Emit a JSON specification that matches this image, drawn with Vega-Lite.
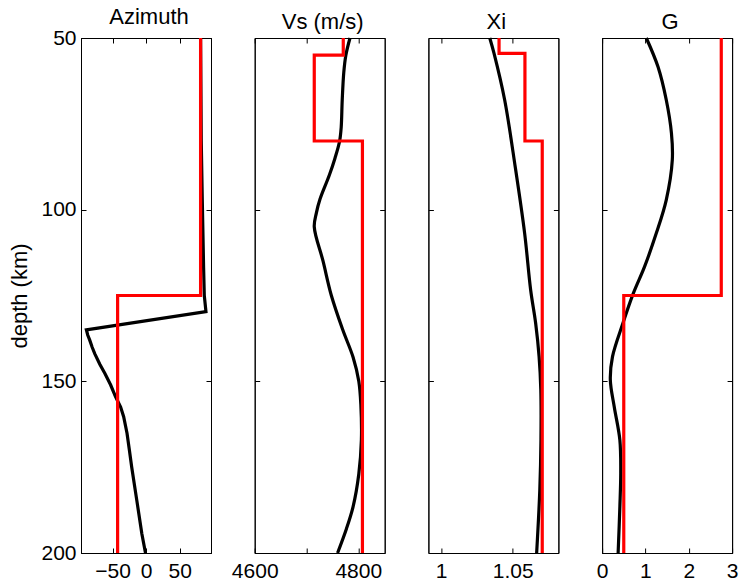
{
  "$schema": "https://vega.github.io/schema/vega-lite/v6.json",
  "padding": {"left": 8, "top": 5, "right": 5, "bottom": 5},
  "background": "white",
  "datasets": {
    "curves": [
      {"panel": "Azimuth", "series": "b", "order": 1, "depth": 50, "value": 81},
      {"panel": "Azimuth", "series": "b", "order": 2, "depth": 80, "value": 82},
      {"panel": "Azimuth", "series": "b", "order": 3, "depth": 97, "value": 83.5},
      {"panel": "Azimuth", "series": "b", "order": 4, "depth": 117, "value": 85.5},
      {"panel": "Azimuth", "series": "b", "order": 5, "depth": 125, "value": 86.5},
      {"panel": "Azimuth", "series": "b", "order": 6, "depth": 129.7, "value": 89},
      {"panel": "Azimuth", "series": "b", "order": 7, "depth": 135, "value": -89},
      {"panel": "Azimuth", "series": "b", "order": 8, "depth": 136.5, "value": -87},
      {"panel": "Azimuth", "series": "b", "order": 9, "depth": 138, "value": -84},
      {"panel": "Azimuth", "series": "b", "order": 10, "depth": 140, "value": -80.5},
      {"panel": "Azimuth", "series": "b", "order": 11, "depth": 142, "value": -76.4},
      {"panel": "Azimuth", "series": "b", "order": 12, "depth": 145, "value": -69},
      {"panel": "Azimuth", "series": "b", "order": 13, "depth": 147.7, "value": -61.4},
      {"panel": "Azimuth", "series": "b", "order": 14, "depth": 151, "value": -53},
      {"panel": "Azimuth", "series": "b", "order": 15, "depth": 154.5, "value": -45.5},
      {"panel": "Azimuth", "series": "b", "order": 16, "depth": 157.5, "value": -38},
      {"panel": "Azimuth", "series": "b", "order": 17, "depth": 160.3, "value": -33.5},
      {"panel": "Azimuth", "series": "b", "order": 18, "depth": 165.1, "value": -28.5},
      {"panel": "Azimuth", "series": "b", "order": 19, "depth": 170, "value": -25},
      {"panel": "Azimuth", "series": "b", "order": 20, "depth": 175, "value": -21.5},
      {"panel": "Azimuth", "series": "b", "order": 21, "depth": 184.6, "value": -14},
      {"panel": "Azimuth", "series": "b", "order": 22, "depth": 194.3, "value": -6.5},
      {"panel": "Azimuth", "series": "b", "order": 23, "depth": 200, "value": -1},
      {"panel": "Azimuth", "series": "r", "order": 1, "depth": 50, "value": 81},
      {"panel": "Azimuth", "series": "r", "order": 2, "depth": 125, "value": 81},
      {"panel": "Azimuth", "series": "r", "order": 3, "depth": 125, "value": -42.5},
      {"panel": "Azimuth", "series": "r", "order": 4, "depth": 200, "value": -42.5},

      {"panel": "Vs", "series": "b", "order": 1, "depth": 50, "value": 4784},
      {"panel": "Vs", "series": "b", "order": 2, "depth": 55, "value": 4776},
      {"panel": "Vs", "series": "b", "order": 3, "depth": 60, "value": 4772},
      {"panel": "Vs", "series": "b", "order": 4, "depth": 68, "value": 4769},
      {"panel": "Vs", "series": "b", "order": 5, "depth": 76, "value": 4767},
      {"panel": "Vs", "series": "b", "order": 6, "depth": 80, "value": 4764},
      {"panel": "Vs", "series": "b", "order": 7, "depth": 85, "value": 4755},
      {"panel": "Vs", "series": "b", "order": 8, "depth": 90, "value": 4744},
      {"panel": "Vs", "series": "b", "order": 9, "depth": 97, "value": 4726},
      {"panel": "Vs", "series": "b", "order": 10, "depth": 101, "value": 4719},
      {"panel": "Vs", "series": "b", "order": 11, "depth": 105, "value": 4715},
      {"panel": "Vs", "series": "b", "order": 12, "depth": 115, "value": 4732},
      {"panel": "Vs", "series": "b", "order": 13, "depth": 125, "value": 4748},
      {"panel": "Vs", "series": "b", "order": 14, "depth": 135, "value": 4770},
      {"panel": "Vs", "series": "b", "order": 15, "depth": 143, "value": 4790},
      {"panel": "Vs", "series": "b", "order": 16, "depth": 150, "value": 4801},
      {"panel": "Vs", "series": "b", "order": 17, "depth": 157, "value": 4805},
      {"panel": "Vs", "series": "b", "order": 18, "depth": 167, "value": 4806},
      {"panel": "Vs", "series": "b", "order": 19, "depth": 177, "value": 4801},
      {"panel": "Vs", "series": "b", "order": 20, "depth": 186.5, "value": 4790},
      {"panel": "Vs", "series": "b", "order": 21, "depth": 193, "value": 4777},
      {"panel": "Vs", "series": "b", "order": 22, "depth": 200, "value": 4760},
      {"panel": "Vs", "series": "r", "order": 1, "depth": 50, "value": 4771},
      {"panel": "Vs", "series": "r", "order": 2, "depth": 55, "value": 4771},
      {"panel": "Vs", "series": "r", "order": 3, "depth": 55, "value": 4715},
      {"panel": "Vs", "series": "r", "order": 4, "depth": 80, "value": 4715},
      {"panel": "Vs", "series": "r", "order": 5, "depth": 80, "value": 4808},
      {"panel": "Vs", "series": "r", "order": 6, "depth": 200, "value": 4808},

      {"panel": "Xi", "series": "b", "order": 1, "depth": 50, "value": 1.034},
      {"panel": "Xi", "series": "b", "order": 2, "depth": 54.5, "value": 1.037},
      {"panel": "Xi", "series": "b", "order": 3, "depth": 68, "value": 1.0444},
      {"panel": "Xi", "series": "b", "order": 4, "depth": 87.5, "value": 1.0518},
      {"panel": "Xi", "series": "b", "order": 5, "depth": 106.9, "value": 1.0584},
      {"panel": "Xi", "series": "b", "order": 6, "depth": 123.4, "value": 1.0626},
      {"panel": "Xi", "series": "b", "order": 7, "depth": 133.1, "value": 1.0661},
      {"panel": "Xi", "series": "b", "order": 8, "depth": 142.8, "value": 1.0685},
      {"panel": "Xi", "series": "b", "order": 9, "depth": 152.5, "value": 1.0697},
      {"panel": "Xi", "series": "b", "order": 10, "depth": 167, "value": 1.0698},
      {"panel": "Xi", "series": "b", "order": 11, "depth": 181.6, "value": 1.069},
      {"panel": "Xi", "series": "b", "order": 12, "depth": 200, "value": 1.0668},
      {"panel": "Xi", "series": "r", "order": 1, "depth": 50, "value": 1.0405},
      {"panel": "Xi", "series": "r", "order": 2, "depth": 54.5, "value": 1.0405},
      {"panel": "Xi", "series": "r", "order": 3, "depth": 54.5, "value": 1.0586},
      {"panel": "Xi", "series": "r", "order": 4, "depth": 80, "value": 1.0586},
      {"panel": "Xi", "series": "r", "order": 5, "depth": 80, "value": 1.0707},
      {"panel": "Xi", "series": "r", "order": 6, "depth": 200, "value": 1.0707},

      {"panel": "G", "series": "b", "order": 1, "depth": 50, "value": 1.02},
      {"panel": "G", "series": "b", "order": 2, "depth": 58.4, "value": 1.29},
      {"panel": "G", "series": "b", "order": 3, "depth": 68, "value": 1.48},
      {"panel": "G", "series": "b", "order": 4, "depth": 77.7, "value": 1.6},
      {"panel": "G", "series": "b", "order": 5, "depth": 85.5, "value": 1.62},
      {"panel": "G", "series": "b", "order": 6, "depth": 97.2, "value": 1.48},
      {"panel": "G", "series": "b", "order": 7, "depth": 106.9, "value": 1.25},
      {"panel": "G", "series": "b", "order": 8, "depth": 116.6, "value": 0.98},
      {"panel": "G", "series": "b", "order": 9, "depth": 124.4, "value": 0.72},
      {"panel": "G", "series": "b", "order": 10, "depth": 133.1, "value": 0.48},
      {"panel": "G", "series": "b", "order": 11, "depth": 142.8, "value": 0.24},
      {"panel": "G", "series": "b", "order": 12, "depth": 149.6, "value": 0.19},
      {"panel": "G", "series": "b", "order": 13, "depth": 157.4, "value": 0.28},
      {"panel": "G", "series": "b", "order": 14, "depth": 167.1, "value": 0.41},
      {"panel": "G", "series": "b", "order": 15, "depth": 176.8, "value": 0.43},
      {"panel": "G", "series": "b", "order": 16, "depth": 186.5, "value": 0.41},
      {"panel": "G", "series": "b", "order": 17, "depth": 200, "value": 0.37},
      {"panel": "G", "series": "r", "order": 1, "depth": 50, "value": 2.75},
      {"panel": "G", "series": "r", "order": 2, "depth": 125, "value": 2.75},
      {"panel": "G", "series": "r", "order": 3, "depth": 125, "value": 0.5},
      {"panel": "G", "series": "r", "order": 4, "depth": 200, "value": 0.5}
    ]
  },
  "data": {"name": "curves"},
  "spacing": 43.7,
  "bounds": "flush",
  "hconcat": [
    {
      "width": 130, "height": 515,
      "title": {"text": "Azimuth"},
      "layer": [
        {
          "transform": [{"filter": "datum.panel == 'Azimuth' && datum.series == 'b'"}],
          "mark": {"type": "line", "color": "black", "strokeWidth": 3.2},
          "encoding": {
            "x": {"field": "value", "type": "quantitative", "scale": {"domain": [-97, 96.5], "nice": false, "zero": false},
                  "axis": {"orient": "bottom", "values": [-50, 0, 50], "format": "d", "title": null}},
            "y": {"field": "depth", "type": "quantitative", "scale": {"domain": [50, 200], "reverse": true, "nice": false, "zero": false},
                  "axis": {"orient": "left", "values": [50, 100, 150, 200], "format": "d", "title": "depth (km)"}},
            "order": {"field": "order", "type": "quantitative"}
          }
        },
        {
          "transform": [{"filter": "datum.panel == 'Azimuth' && datum.series == 'r'"}],
          "mark": {"type": "line", "color": "#ff0000", "strokeWidth": 3.2},
          "encoding": {
            "x": {"field": "value", "type": "quantitative", "axis": {"orient": "top", "values": [-50, 0, 50], "labels": false, "title": null}},
            "y": {"field": "depth", "type": "quantitative", "axis": {"orient": "right", "values": [50, 100, 150, 200], "labels": false, "title": null}},
            "order": {"field": "order", "type": "quantitative"}
          }
        }
      ],
      "resolve": {"axis": {"x": "independent", "y": "independent"}}
    },
    {
      "width": 130, "height": 515,
      "title": {"text": "Vs (m/s)"},
      "layer": [
        {
          "transform": [{"filter": "datum.panel == 'Vs' && datum.series == 'b'"}],
          "mark": {"type": "line", "color": "black", "strokeWidth": 3.2, "interpolate": "catmull-rom"},
          "encoding": {
            "x": {"field": "value", "type": "quantitative", "scale": {"domain": [4600, 4851], "nice": false, "zero": false},
                  "axis": {"orient": "bottom", "values": [4600, 4700, 4800], "format": "d", "labelExpr": "datum.value == 4700 ? '' : datum.label", "title": null}},
            "y": {"field": "depth", "type": "quantitative", "scale": {"domain": [50, 200], "reverse": true, "nice": false, "zero": false},
                  "axis": {"orient": "left", "values": [50, 100, 150, 200], "labels": false, "title": null}},
            "order": {"field": "order", "type": "quantitative"}
          }
        },
        {
          "transform": [{"filter": "datum.panel == 'Vs' && datum.series == 'r'"}],
          "mark": {"type": "line", "color": "#ff0000", "strokeWidth": 3.2},
          "encoding": {
            "x": {"field": "value", "type": "quantitative", "axis": {"orient": "top", "values": [4600, 4700, 4800], "labels": false, "title": null}},
            "y": {"field": "depth", "type": "quantitative", "axis": {"orient": "right", "values": [50, 100, 150, 200], "labels": false, "title": null}},
            "order": {"field": "order", "type": "quantitative"}
          }
        }
      ],
      "resolve": {"axis": {"x": "independent", "y": "independent"}}
    },
    {
      "width": 130, "height": 515,
      "title": {"text": "Xi"},
      "layer": [
        {
          "transform": [{"filter": "datum.panel == 'Xi' && datum.series == 'b'"}],
          "mark": {"type": "line", "color": "black", "strokeWidth": 3.2, "interpolate": "catmull-rom"},
          "encoding": {
            "x": {"field": "value", "type": "quantitative", "scale": {"domain": [0.9911, 1.082], "nice": false, "zero": false},
                  "axis": {"orient": "bottom", "values": [1, 1.05], "format": ".3~g", "title": null}},
            "y": {"field": "depth", "type": "quantitative", "scale": {"domain": [50, 200], "reverse": true, "nice": false, "zero": false},
                  "axis": {"orient": "left", "values": [50, 100, 150, 200], "labels": false, "title": null}},
            "order": {"field": "order", "type": "quantitative"}
          }
        },
        {
          "transform": [{"filter": "datum.panel == 'Xi' && datum.series == 'r'"}],
          "mark": {"type": "line", "color": "#ff0000", "strokeWidth": 3.2},
          "encoding": {
            "x": {"field": "value", "type": "quantitative", "axis": {"orient": "top", "values": [1, 1.05], "labels": false, "title": null}},
            "y": {"field": "depth", "type": "quantitative", "axis": {"orient": "right", "values": [50, 100, 150, 200], "labels": false, "title": null}},
            "order": {"field": "order", "type": "quantitative"}
          }
        }
      ],
      "resolve": {"axis": {"x": "independent", "y": "independent"}}
    },
    {
      "width": 130, "height": 515,
      "title": {"text": "G"},
      "layer": [
        {
          "transform": [{"filter": "datum.panel == 'G' && datum.series == 'b'"}],
          "mark": {"type": "line", "color": "black", "strokeWidth": 3.2, "interpolate": "catmull-rom"},
          "encoding": {
            "x": {"field": "value", "type": "quantitative", "scale": {"domain": [0, 3], "nice": false, "zero": false},
                  "axis": {"orient": "bottom", "values": [0, 1, 2, 3], "format": "d", "title": null}},
            "y": {"field": "depth", "type": "quantitative", "scale": {"domain": [50, 200], "reverse": true, "nice": false, "zero": false},
                  "axis": {"orient": "left", "values": [50, 100, 150, 200], "labels": false, "title": null}},
            "order": {"field": "order", "type": "quantitative"}
          }
        },
        {
          "transform": [{"filter": "datum.panel == 'G' && datum.series == 'r'"}],
          "mark": {"type": "line", "color": "#ff0000", "strokeWidth": 3.2},
          "encoding": {
            "x": {"field": "value", "type": "quantitative", "axis": {"orient": "top", "values": [0, 1, 2, 3], "labels": false, "title": null}},
            "y": {"field": "depth", "type": "quantitative", "axis": {"orient": "right", "values": [50, 100, 150, 200], "labels": false, "title": null}},
            "order": {"field": "order", "type": "quantitative"}
          }
        }
      ],
      "resolve": {"axis": {"x": "independent", "y": "independent"}}
    }
  ],
  "config": {
    "font": "Liberation Sans",
    "view": {"stroke": "black", "strokeWidth": 1},
    "axis": {
      "labelFont": "Liberation Sans", "titleFont": "Liberation Sans",
      "labelFontSize": 21, "titleFontSize": 22, "titleFontWeight": "normal",
      "labelColor": "black", "titleColor": "black",
      "domainColor": "black", "domainWidth": 1,
      "tickColor": "black", "tickWidth": 1, "tickSize": -5,
      "grid": false, "labelFlush": false, "labelOverlap": false
    },
    "axisX": {"labelPadding": 12},
    "axisY": {"labelPadding": 10, "titlePadding": 9},
    "title": {"font": "Liberation Sans", "fontSize": 22, "fontWeight": "normal", "color": "black", "baseline": "alphabetic", "offset": -2, "dx": 3}
  }
}
